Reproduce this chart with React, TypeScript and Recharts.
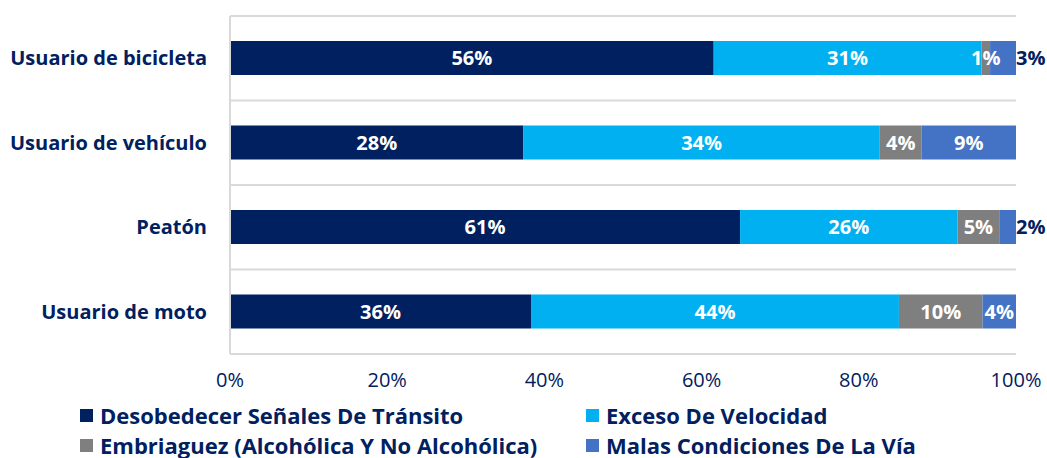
import React from "react";
import {
  BarChart,
  Bar,
  XAxis,
  YAxis,
  CartesianGrid,
  Legend,
  LabelList
} from "recharts";

const categories = [
  "Usuario de bicicleta",
  "Usuario de vehículo",
  "Peatón",
  "Usuario de moto"
];

const desobedecer = [56, 28, 61, 36];
const exceso = [31, 34, 26, 44];
const embriaguez = [1, 4, 5, 10];
const malas = [3, 9, 2, 4];

const xTicks = [0, 0.2, 0.4, 0.6, 0.8, 1];

const series = [
  { key: "desobedecer", name: "Desobedecer Señales De Tránsito", color: "#002060", values: desobedecer },
  { key: "exceso", name: "Exceso De Velocidad", color: "#00B0F0", values: exceso },
  { key: "embriaguez", name: "Embriaguez (Alcohólica Y No Alcohólica)", color: "#7F7F7F", values: embriaguez },
  { key: "malas", name: "Malas Condiciones De La Vía", color: "#4472C4", values: malas }
];

const data = categories.map((name, i) => ({
  name,
  desobedecer: desobedecer[i],
  exceso: exceso[i],
  embriaguez: embriaguez[i],
  malas: malas[i]
}));

const NAVY = "#002060";
const FONT = "'Open Sans', 'Noto Sans', sans-serif";

// small segments of the last series get their label outside, to the right
const makeLabel = (values: number[], outsideIfSmall: boolean) => (props: any) => {
  const { x, y, width, height, value, index } = props;
  const v = typeof value === "number" ? value : values[index];
  const cy = Number(y) + Number(height) / 2;
  if (outsideIfSmall && Number(width) < 30) {
    return (
      <text x={Number(x) + Number(width)} y={cy} dy="0.36em" textAnchor="start"
        fill={NAVY} fontFamily={FONT} fontWeight={700} fontSize={20}>
        {v}%
      </text>
    );
  }
  return (
    <text x={Number(x) + Number(width) / 2} y={cy} dy="0.36em" textAnchor="middle"
      fill="#ffffff" fontFamily={FONT} fontWeight={700} fontSize={20}>
      {v}%
    </text>
  );
};

const LegendBox = () => (
  <div style={{ position: "relative", width: 1047, height: 64, fontFamily: FONT, fontWeight: 700, fontSize: 22, lineHeight: 1, color: NAVY }}>
    {series.map((s, i) => {
      const col = i === 0 || i === 2 ? 0 : 1;
      const row = i < 2 ? 0 : 1;
      return (
        <div key={s.key} style={{ position: "absolute", left: col === 0 ? 80 : 586, top: 10 + row * 30, height: 22, display: "flex", alignItems: "center", whiteSpace: "nowrap" }}>
          <span style={{ display: "inline-block", width: 13, height: 13, background: s.color, marginRight: 7 }} />
          <span>{s.name}</span>
        </div>
      );
    })}
  </div>
);

export default function App() {
  return (
    <div style={{ position: "absolute", left: 0, top: 0, width: 1047, height: 458, background: "#fff" }}>
      <BarChart
        width={1047}
        height={458}
        data={data}
        layout="vertical"
        stackOffset="expand"
        margin={{ top: 16, right: 31, left: 8, bottom: 0 }}
      >
        <CartesianGrid
          vertical={false}
          stroke="#D9D9D9"
          strokeWidth={2}
          horizontalCoordinatesGenerator={({ offset }: any) =>
            categories.concat([""]).map((_, i) => offset.top + (i * offset.height) / categories.length)
          }
        />
        <XAxis
          type="number"
          domain={[0, 1]}
          ticks={xTicks}
          tickFormatter={(v: number) => `${Math.round(v * 100)}%`}
          axisLine={false}
          tickLine={false}
          height={40}
          tickMargin={13}
          tick={{ fill: NAVY, fontSize: 20, fontFamily: FONT }}
        />
        <YAxis
          type="category"
          dataKey="name"
          width={222}
          axisLine={{ stroke: "#D9D9D9", strokeWidth: 2 }}
          tickLine={false}
          tickSize={0}
          tickMargin={23}
          tick={{ fill: NAVY, fontSize: 20, fontWeight: 700, fontFamily: FONT }}
        />
        <Legend verticalAlign="bottom" wrapperStyle={{ left: 0 }} content={<LegendBox />} />
        {series.map((s, i) => (
          <Bar
            key={s.key}
            dataKey={s.key}
            name={s.name}
            stackId="a"
            fill={s.color}
            barSize={34}
            isAnimationActive={false}
          >
            <LabelList dataKey={s.key} content={makeLabel(s.values, i === 3)} />
          </Bar>
        ))}
      </BarChart>
    </div>
  );
}
